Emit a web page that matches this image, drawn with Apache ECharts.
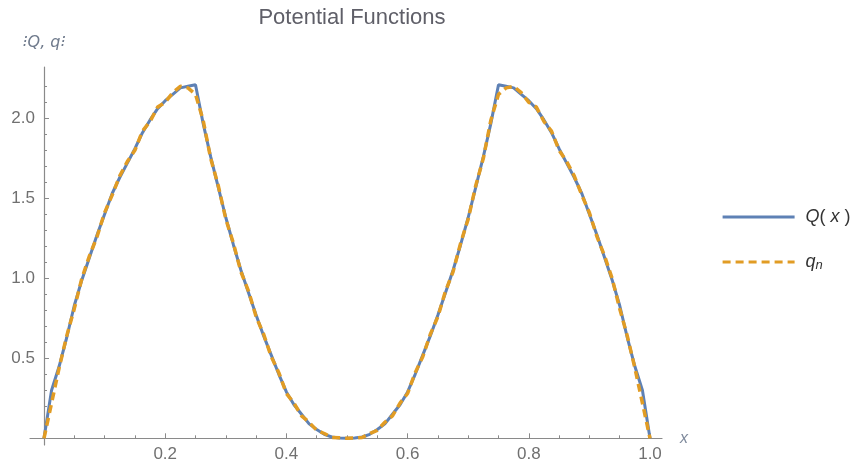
<!DOCTYPE html>
<html>
<head>
<meta charset="utf-8">
<title>Potential Functions</title>
<script src="https://cdn.jsdelivr.net/npm/echarts@6/dist/echarts.min.js"></script>
<style>
  html, body { margin: 0; padding: 0; background: #fff; }
  #chart { width: 852px; height: 468px; }
</style>
</head>
<body>
<div id="chart"></div>
<script>
// x grid (step 0.0125)
var xs = [0, 0.0125, 0.025, 0.0375, 0.05, 0.0625, 0.075, 0.0875, 0.1, 0.1125,
  0.125, 0.1375, 0.15, 0.1625, 0.175, 0.1875, 0.2, 0.2125, 0.225, 0.2375,
  0.25, 0.2625, 0.275, 0.2875, 0.3, 0.3125, 0.325, 0.3375, 0.35, 0.3625,
  0.375, 0.3875, 0.4, 0.4125, 0.425, 0.4375, 0.45, 0.4625, 0.475, 0.4875,
  0.5, 0.5125, 0.525, 0.5375, 0.55, 0.5625, 0.575, 0.5875, 0.6, 0.6125,
  0.625, 0.6375, 0.65, 0.6625, 0.675, 0.6875, 0.7, 0.7125, 0.725, 0.7375,
  0.75, 0.7625, 0.775, 0.7875, 0.8, 0.8125, 0.825, 0.8375, 0.85, 0.8625,
  0.875, 0.8875, 0.9, 0.9125, 0.925, 0.9375, 0.95, 0.9625, 0.975, 0.9875, 1];

// Q(x)
var qExact = [0, 0.30, 0.45, 0.63, 0.83, 0.99, 1.13, 1.27, 1.40, 1.53,
  1.63, 1.72, 1.81, 1.91, 1.99, 2.06, 2.11, 2.15, 2.19, 2.20,
  2.21, 1.97, 1.76, 1.57, 1.38, 1.21, 1.05, 0.91, 0.77, 0.64,
  0.52, 0.40, 0.29, 0.21, 0.15, 0.09, 0.055, 0.025, 0.008, 0.002,
  0, 0.002, 0.008, 0.025, 0.055, 0.09, 0.15, 0.21, 0.29, 0.40,
  0.52, 0.64, 0.77, 0.91, 1.05, 1.21, 1.38, 1.57, 1.76, 1.97,
  2.21, 2.20, 2.19, 2.15, 2.11, 2.06, 1.99, 1.91, 1.81, 1.72,
  1.63, 1.53, 1.40, 1.27, 1.13, 0.99, 0.83, 0.63, 0.45, 0.30, 0];

// q_n approximation
var qApprox = [0, 0.22, 0.44, 0.64, 0.81, 1.00, 1.14, 1.26, 1.41, 1.52,
  1.64, 1.73, 1.80, 1.92, 1.98, 2.07, 2.10, 2.16, 2.20, 2.19,
  2.15, 1.99, 1.75, 1.58, 1.37, 1.22, 1.04, 0.92, 0.76, 0.65,
  0.51, 0.41, 0.28, 0.22, 0.14, 0.10, 0.05, 0.03, 0.005, 0.003,
  0, 0.003, 0.005, 0.03, 0.05, 0.10, 0.14, 0.22, 0.28, 0.41,
  0.51, 0.65, 0.76, 0.92, 1.04, 1.22, 1.37, 1.58, 1.75, 1.99,
  2.15, 2.19, 2.20, 2.16, 2.10, 2.07, 1.98, 1.92, 1.80, 1.73,
  1.64, 1.52, 1.41, 1.26, 1.14, 1.00, 0.81, 0.64, 0.44, 0.22, 0];

var yTicks = [0.5, 1.0, 1.5, 2.0];

var axisGray = '#8a8a8a';
var labelGray = '#707070';

function pairs(ys) {
  return xs.map(function (x, i) { return [x, ys[i]]; });
}

var chart = echarts.init(document.getElementById('chart'));
var option = {
  animation: false,
  title: {
    text: 'Potential Functions',
    left: 347,
    textAlign: 'center',
    top: 2,
    textStyle: { fontFamily: 'Liberation Sans', fontSize: 22, fontWeight: 'normal', color: '#5f5f68' }
  },
  legend: {
    orient: 'vertical',
    left: 716,
    top: 203,
    itemWidth: 72,
    itemHeight: 14,
    itemGap: 27,
    itemStyle: { color: 'transparent', borderWidth: 0, opacity: 0 },
    lineStyle: { width: 3.2 },
    data: ['Q(x)', 'qn'],
    formatter: function (name) {
      return name === 'qn' ? '{i|q}{s|n}' : '{i|Q}{r|( }{i|x}{r| )}';
    },
    textStyle: {
      padding: [0, 0, 0, 6],
      rich: {
        i: { fontFamily: 'Liberation Sans', fontStyle: 'italic', fontSize: 18, color: '#333', lineHeight: 20 },
        r: { fontFamily: 'Liberation Sans', fontSize: 18, color: '#333', lineHeight: 20 },
        s: { fontFamily: 'Liberation Sans', fontStyle: 'italic', fontSize: 13, color: '#333', verticalAlign: 'bottom', lineHeight: 14 }
      }
    }
  },
  grid: [
    { left: 44, right: 202, top: 70.3, bottom: 29.7 },
    { left: 30, right: 190, top: 67, bottom: 23 }
  ],
  xAxis: [
    {
      type: 'value', gridIndex: 0, min: 0, max: 1, interval: 0.2,
      axisLine: { show: false },
      splitLine: { show: false },
      axisTick: { inside: true, length: 5, lineStyle: { color: axisGray } },
      minorTick: { show: true, splitNumber: 4, length: 3, lineStyle: { color: axisGray } },
      axisLabel: {
        showMinLabel: false, margin: 8, color: labelGray, fontSize: 17, fontFamily: 'Liberation Sans',
        formatter: function (v) { return v.toFixed(1); }
      }
    },
    {
      type: 'value', gridIndex: 1, min: -0.0231, max: 1.02,
      axisLine: { show: true, onZero: true, lineStyle: { color: axisGray, width: 1.2 } },
      splitLine: { show: false }, axisTick: { show: false }, axisLabel: { show: false },
      name: 'x', nameLocation: 'end', nameGap: 18,
      nameTextStyle: { fontFamily: 'Liberation Sans', fontStyle: 'italic', fontSize: 16, color: '#7f8a9c', verticalAlign: 'middle' }
    }
  ],
  yAxis: [
    {
      type: 'value', gridIndex: 0, min: 0, max: 2.3, interval: 0.5,
      axisLine: { show: false },
      splitLine: { show: false },
      axisTick: { inside: true, length: 5, customValues: yTicks, lineStyle: { color: axisGray } },
      minorTick: { show: true, splitNumber: 5, length: 3, lineStyle: { color: axisGray } },
      axisLabel: {
        customValues: yTicks, margin: 9, color: labelGray, fontSize: 17, fontFamily: 'Liberation Sans',
        formatter: function (v) { return v.toFixed(1); }
      }
    },
    {
      type: 'value', gridIndex: 1, min: -0.042, max: 2.32,
      axisLine: { show: true, onZero: true, lineStyle: { color: axisGray, width: 1.2 } },
      splitLine: { show: false }, axisTick: { show: false }, axisLabel: { show: false },
      name: '\u205DQ, q\u205D', nameLocation: 'end', nameGap: 16,
      nameTextStyle: { fontFamily: 'DejaVu Sans', fontStyle: 'italic', fontSize: 16, color: '#6f7a8c', align: 'center' }
    }
  ],
  series: [
    {
      name: 'Q(x)', type: 'line', xAxisIndex: 0, yAxisIndex: 0,
      data: pairs(qExact), showSymbol: false, symbol: 'none', clip: false,
      lineStyle: { color: '#5e81b5', width: 3 }, itemStyle: { color: '#5e81b5' }, z: 3
    },
    {
      name: 'qn', type: 'line', xAxisIndex: 0, yAxisIndex: 0,
      data: pairs(qApprox), showSymbol: false, symbol: 'none', clip: false,
      lineStyle: { color: '#e19c24', width: 3.5, type: [8, 5] }, itemStyle: { color: '#e19c24' }, z: 4
    }
  ]
};
chart.setOption(option);
</script>
</body>
</html>
